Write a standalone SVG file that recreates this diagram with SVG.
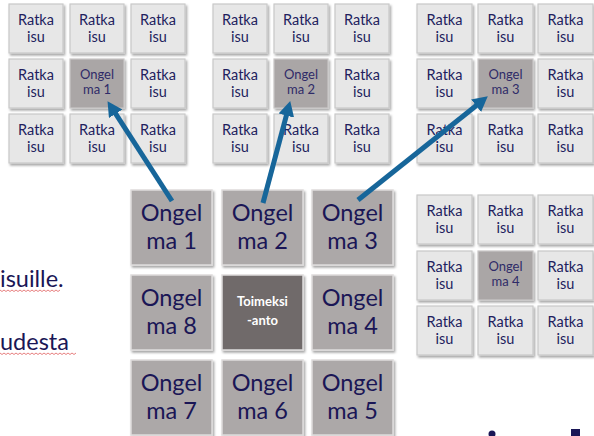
<svg xmlns="http://www.w3.org/2000/svg" width="594" height="436" viewBox="0 0 594 436">
  <defs>
    <filter id="shadow" x="-10%" y="-10%" width="130%" height="130%">
      <feDropShadow dx="1.5" dy="2" stdDeviation="1.2" flood-color="#000" flood-opacity="0.35"/>
    </filter>
    <marker id="head" markerUnits="userSpaceOnUse" markerWidth="16" markerHeight="17" refX="4" refY="8" orient="auto">
      <path d="M0,0 L15,8 L0,16 z" fill="#17669a"/>
    </marker>
    <style>
      text { font-family: Lato, "Open Sans", "Liberation Sans", sans-serif; text-anchor: middle; }
      .sol rect { fill: #e7e7e7; stroke: #c9c9c9; stroke-width: 1.2; filter: url(#shadow); }
      .sol text { fill: #221e5e; font-size: 14.5px; }
      .prb rect { fill: #aaa6a6; stroke: #c9c6c6; stroke-width: 1.2; filter: url(#shadow); }
      .prb text { fill: #2f2b68; font-size: 13px; }
      .big rect { fill: #aca8a8; stroke: #dedcdc; stroke-width: 1.5; filter: url(#shadow); }
      .big text { fill: #1a1656; font-size: 23.5px; }
      .task rect { fill: #6f6b6b; stroke: #dedcdc; stroke-width: 1.5; filter: url(#shadow); }
      .task text { fill: #ffffff; font-size: 13px; font-weight: bold; }
      .body { fill: #1a1656; font-size: 23.5px; text-anchor: start; }
      .squig { fill: none; stroke: #e06060; stroke-width: 0.8; }
      .arrow { fill: none; stroke: #17669a; stroke-width: 5; marker-end: url(#head); }
    </style>
  </defs>
  <rect width="594" height="436" fill="#ffffff"/>

  <!-- body text fragments at the left edge -->
  <text class="body" x="0" y="287">isuille.</text>
  <path class="squig" d="M0,290 l2,1.5 l2,-1.5 l2,1.5 l2,-1.5 l2,1.5 l2,-1.5 l2,1.5 l2,-1.5 l2,1.5 l2,-1.5 l2,1.5 l2,-1.5 l2,1.5 l2,-1.5 l2,1.5 l2,-1.5 l2,1.5 l2,-1.5 l2,1.5 l2,-1.5 l2,1.5 l2,-1.5 l2,1.5 l2,-1.5 l2,1.5 l2,-1.5 l2,1.5 l2,-1.5 l2,1.5 l2,-1.5"/>
  <text class="body" x="0" y="350">udesta</text>
  <path class="squig" d="M0,353 l2,1.5 l2,-1.5 l2,1.5 l2,-1.5 l2,1.5 l2,-1.5 l2,1.5 l2,-1.5 l2,1.5 l2,-1.5 l2,1.5 l2,-1.5 l2,1.5 l2,-1.5 l2,1.5 l2,-1.5 l2,1.5 l2,-1.5 l2,1.5 l2,-1.5 l2,1.5 l2,-1.5 l2,1.5 l2,-1.5 l2,1.5 l2,-1.5 l2,1.5 l2,-1.5 l2,1.5 l2,-1.5 l2,1.5 l2,-1.5 l2,1.5 l2,-1.5 l2,1.5 l2,-1.5 l2,1.5 l2,-1.5"/>

  <!-- partial glyph tops at the bottom edge -->
  <circle cx="492" cy="434" r="3.5" fill="#1a1656"/>
  <rect x="571" y="429" width="9" height="8" fill="#1a1656"/>

  <!-- solution grid around problem 1 -->
  <g id="g1-r1c1" class="sol"><rect x="9" y="4" width="54" height="49"/><text x="36" y="25">Ratka</text><text x="36" y="42">isu</text></g>
  <g id="g1-r1c2" class="sol"><rect x="70" y="4" width="54" height="49"/><text x="97" y="25">Ratka</text><text x="97" y="42">isu</text></g>
  <g id="g1-r1c3" class="sol"><rect x="131" y="4" width="54" height="49"/><text x="158" y="25">Ratka</text><text x="158" y="42">isu</text></g>
  <g id="g1-r2c1" class="sol"><rect x="9" y="59" width="54" height="49"/><text x="36" y="80">Ratka</text><text x="36" y="97">isu</text></g>
  <g id="g1-p1" class="prb"><rect x="70" y="59" width="54" height="49"/><text x="97" y="79">Ongel</text><text x="97" y="94">ma 1</text></g>
  <g id="g1-r2c3" class="sol"><rect x="131" y="59" width="54" height="49"/><text x="158" y="80">Ratka</text><text x="158" y="97">isu</text></g>
  <g id="g1-r3c1" class="sol"><rect x="9" y="114" width="54" height="49"/><text x="36" y="135">Ratka</text><text x="36" y="152">isu</text></g>
  <g id="g1-r3c2" class="sol"><rect x="70" y="114" width="54" height="49"/><text x="97" y="135">Ratka</text><text x="97" y="152">isu</text></g>
  <g id="g1-r3c3" class="sol"><rect x="131" y="114" width="54" height="49"/><text x="158" y="135">Ratka</text><text x="158" y="152">isu</text></g>

  <!-- solution grid around problem 2 -->
  <g id="g2-r1c1" class="sol"><rect x="213" y="4" width="54" height="49"/><text x="240" y="25">Ratka</text><text x="240" y="42">isu</text></g>
  <g id="g2-r1c2" class="sol"><rect x="274" y="4" width="54" height="49"/><text x="301" y="25">Ratka</text><text x="301" y="42">isu</text></g>
  <g id="g2-r1c3" class="sol"><rect x="335" y="4" width="54" height="49"/><text x="362" y="25">Ratka</text><text x="362" y="42">isu</text></g>
  <g id="g2-r2c1" class="sol"><rect x="213" y="59" width="54" height="49"/><text x="240" y="80">Ratka</text><text x="240" y="97">isu</text></g>
  <g id="g2-p2" class="prb"><rect x="274" y="59" width="54" height="49"/><text x="301" y="79">Ongel</text><text x="301" y="94">ma 2</text></g>
  <g id="g2-r2c3" class="sol"><rect x="335" y="59" width="54" height="49"/><text x="362" y="80">Ratka</text><text x="362" y="97">isu</text></g>
  <g id="g2-r3c1" class="sol"><rect x="213" y="114" width="54" height="49"/><text x="240" y="135">Ratka</text><text x="240" y="152">isu</text></g>
  <g id="g2-r3c2" class="sol"><rect x="274" y="114" width="54" height="49"/><text x="301" y="135">Ratka</text><text x="301" y="152">isu</text></g>
  <g id="g2-r3c3" class="sol"><rect x="335" y="114" width="54" height="49"/><text x="362" y="135">Ratka</text><text x="362" y="152">isu</text></g>

  <!-- solution grid around problem 3 -->
  <g id="g3-r1c1" class="sol"><rect x="417" y="4" width="55" height="49"/><text x="444.5" y="25">Ratka</text><text x="444.5" y="42">isu</text></g>
  <g id="g3-r1c2" class="sol"><rect x="478" y="4" width="55" height="49"/><text x="505.5" y="25">Ratka</text><text x="505.5" y="42">isu</text></g>
  <g id="g3-r1c3" class="sol"><rect x="538" y="4" width="55" height="49"/><text x="565.5" y="25">Ratka</text><text x="565.5" y="42">isu</text></g>
  <g id="g3-r2c1" class="sol"><rect x="417" y="59" width="55" height="49"/><text x="444.5" y="80">Ratka</text><text x="444.5" y="97">isu</text></g>
  <g id="g3-p3" class="prb"><rect x="478" y="59" width="55" height="49"/><text x="505.5" y="79">Ongel</text><text x="505.5" y="94">ma 3</text></g>
  <g id="g3-r2c3" class="sol"><rect x="538" y="59" width="55" height="49"/><text x="565.5" y="80">Ratka</text><text x="565.5" y="97">isu</text></g>
  <g id="g3-r3c1" class="sol"><rect x="417" y="114" width="55" height="49"/><text x="444.5" y="135">Ratka</text><text x="444.5" y="152">isu</text></g>
  <g id="g3-r3c2" class="sol"><rect x="478" y="114" width="55" height="49"/><text x="505.5" y="135">Ratka</text><text x="505.5" y="152">isu</text></g>
  <g id="g3-r3c3" class="sol"><rect x="538" y="114" width="55" height="49"/><text x="565.5" y="135">Ratka</text><text x="565.5" y="152">isu</text></g>

  <!-- solution grid around problem 4 -->
  <g id="g4-r1c1" class="sol"><rect x="417" y="195" width="55" height="49"/><text x="444.5" y="216">Ratka</text><text x="444.5" y="233">isu</text></g>
  <g id="g4-r1c2" class="sol"><rect x="478" y="195" width="55" height="49"/><text x="505.5" y="216">Ratka</text><text x="505.5" y="233">isu</text></g>
  <g id="g4-r1c3" class="sol"><rect x="538" y="195" width="55" height="49"/><text x="565.5" y="216">Ratka</text><text x="565.5" y="233">isu</text></g>
  <g id="g4-r2c1" class="sol"><rect x="417" y="251" width="55" height="49"/><text x="444.5" y="272">Ratka</text><text x="444.5" y="289">isu</text></g>
  <g id="g4-p4" class="prb"><rect x="478" y="251" width="55" height="49"/><text x="505.5" y="271">Ongel</text><text x="505.5" y="286">ma 4</text></g>
  <g id="g4-r2c3" class="sol"><rect x="538" y="251" width="55" height="49"/><text x="565.5" y="272">Ratka</text><text x="565.5" y="289">isu</text></g>
  <g id="g4-r3c1" class="sol"><rect x="417" y="306" width="55" height="49"/><text x="444.5" y="327">Ratka</text><text x="444.5" y="344">isu</text></g>
  <g id="g4-r3c2" class="sol"><rect x="478" y="306" width="55" height="49"/><text x="505.5" y="327">Ratka</text><text x="505.5" y="344">isu</text></g>
  <g id="g4-r3c3" class="sol"><rect x="538" y="306" width="55" height="49"/><text x="565.5" y="327">Ratka</text><text x="565.5" y="344">isu</text></g>

  <!-- central task grid -->
  <g id="ongelma1" class="big"><rect x="131" y="190" width="81" height="75"/><text x="171.5" y="221">Ongel</text><text x="171.5" y="249">ma 1</text></g>
  <g id="ongelma2" class="big"><rect x="222" y="190" width="81" height="75"/><text x="262.5" y="221">Ongel</text><text x="262.5" y="249">ma 2</text></g>
  <g id="ongelma3" class="big"><rect x="312" y="190" width="81" height="75"/><text x="352.5" y="221">Ongel</text><text x="352.5" y="249">ma 3</text></g>
  <g id="ongelma8" class="big"><rect x="131" y="275" width="81" height="75"/><text x="171.5" y="306">Ongel</text><text x="171.5" y="334">ma 8</text></g>
  <g id="toimeksianto" class="task"><rect x="222" y="275" width="81" height="75"/><text x="262.5" y="306">Toimeksi</text><text x="262.5" y="325">-anto</text></g>
  <g id="ongelma4" class="big"><rect x="312" y="275" width="81" height="75"/><text x="352.5" y="306">Ongel</text><text x="352.5" y="334">ma 4</text></g>
  <g id="ongelma7" class="big"><rect x="131" y="360" width="81" height="75"/><text x="171.5" y="391">Ongel</text><text x="171.5" y="419">ma 7</text></g>
  <g id="ongelma6" class="big"><rect x="222" y="360" width="81" height="75"/><text x="262.5" y="391">Ongel</text><text x="262.5" y="419">ma 6</text></g>
  <g id="ongelma5" class="big"><rect x="312" y="360" width="81" height="75"/><text x="352.5" y="391">Ongel</text><text x="352.5" y="419">ma 5</text></g>

  <!-- connectors: each task problem points to its solution grid -->
  <g id="connectors">
    <line class="arrow" x1="172" y1="201" x2="113.5" y2="110.4"/>
    <line class="arrow" x1="263" y1="203" x2="287.4" y2="111.7"/>
    <line class="arrow" x1="358" y1="200" x2="479.2" y2="103.2"/>
  </g>
</svg>
